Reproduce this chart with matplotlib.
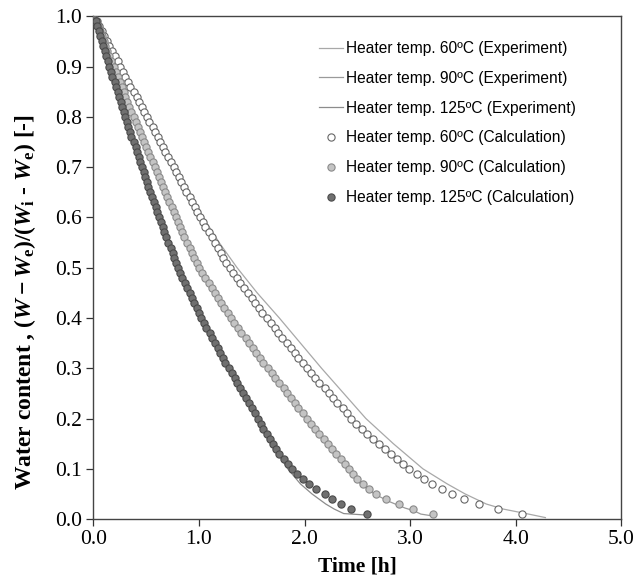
import matplotlib
matplotlib.use("Agg")
from matplotlib import pyplot as plt

# moisture levels of the calculated points, shared by the three calculation series
calc_levels = [
    1.00, 0.99, 0.98, 0.97, 0.96, 0.95, 0.94, 0.93, 0.92, 0.91,
    0.90, 0.89, 0.88, 0.87, 0.86, 0.85, 0.84, 0.83, 0.82, 0.81,
    0.80, 0.79, 0.78, 0.77, 0.76, 0.75, 0.74, 0.73, 0.72, 0.71,
    0.70, 0.69, 0.68, 0.67, 0.66, 0.65, 0.64, 0.63, 0.62, 0.61,
    0.60, 0.59, 0.58, 0.57, 0.56, 0.55, 0.54, 0.53, 0.52, 0.51,
    0.50, 0.49, 0.48, 0.47, 0.46, 0.45, 0.44, 0.43, 0.42, 0.41,
    0.40, 0.39, 0.38, 0.37, 0.36, 0.35, 0.34, 0.33, 0.32, 0.31,
    0.30, 0.29, 0.28, 0.27, 0.26, 0.25, 0.24, 0.23, 0.22, 0.21,
    0.20, 0.19, 0.18, 0.17, 0.16, 0.15, 0.14, 0.13, 0.12, 0.11,
    0.10, 0.09, 0.08, 0.07, 0.06, 0.05, 0.04, 0.03, 0.02, 0.01,
]

calc_60_t = [
    0.00, 0.03, 0.05, 0.08, 0.10, 0.13, 0.15, 0.18, 0.20, 0.23,
    0.25, 0.28, 0.30, 0.33, 0.35, 0.38, 0.41, 0.43, 0.46, 0.48,
    0.51, 0.53, 0.56, 0.58, 0.61, 0.63, 0.66, 0.68, 0.71, 0.73,
    0.76, 0.78, 0.81, 0.83, 0.86, 0.88, 0.91, 0.93, 0.96, 0.98,
    1.01, 1.04, 1.06, 1.09, 1.12, 1.15, 1.18, 1.21, 1.23, 1.26,
    1.29, 1.32, 1.36, 1.39, 1.43, 1.46, 1.50, 1.53, 1.57, 1.60,
    1.64, 1.68, 1.72, 1.75, 1.79, 1.83, 1.87, 1.91, 1.94, 1.98,
    2.02, 2.06, 2.10, 2.14, 2.19, 2.23, 2.27, 2.31, 2.36, 2.40,
    2.44, 2.49, 2.54, 2.59, 2.65, 2.70, 2.76, 2.82, 2.87, 2.93,
    2.99, 3.06, 3.13, 3.21, 3.30, 3.40, 3.51, 3.65, 3.83, 4.06,
]

calc_90_t = [
    0.00, 0.02, 0.04, 0.06, 0.08, 0.10, 0.11, 0.13, 0.15, 0.17,
    0.19, 0.21, 0.23, 0.25, 0.27, 0.29, 0.30, 0.32, 0.34, 0.36,
    0.38, 0.40, 0.42, 0.44, 0.46, 0.48, 0.50, 0.52, 0.54, 0.56,
    0.58, 0.60, 0.62, 0.64, 0.66, 0.68, 0.70, 0.72, 0.74, 0.76,
    0.78, 0.80, 0.82, 0.84, 0.86, 0.89, 0.91, 0.93, 0.95, 0.98,
    1.00, 1.03, 1.06, 1.09, 1.12, 1.15, 1.18, 1.21, 1.24, 1.27,
    1.30, 1.33, 1.37, 1.40, 1.44, 1.47, 1.51, 1.54, 1.58, 1.61,
    1.65, 1.69, 1.72, 1.76, 1.80, 1.83, 1.87, 1.91, 1.94, 1.98,
    2.02, 2.06, 2.10, 2.14, 2.18, 2.22, 2.26, 2.30, 2.34, 2.38,
    2.42, 2.46, 2.50, 2.55, 2.61, 2.68, 2.77, 2.89, 3.03, 3.22,
]

calc_125_t = [
    0.00, 0.02, 0.03, 0.05, 0.06, 0.08, 0.09, 0.11, 0.12, 0.14,
    0.15, 0.17, 0.18, 0.20, 0.21, 0.23, 0.24, 0.26, 0.27, 0.29,
    0.30, 0.32, 0.33, 0.35, 0.36, 0.38, 0.40, 0.41, 0.43, 0.44,
    0.46, 0.48, 0.49, 0.51, 0.52, 0.54, 0.55, 0.57, 0.59, 0.60,
    0.62, 0.64, 0.66, 0.67, 0.69, 0.71, 0.73, 0.75, 0.76, 0.78,
    0.80, 0.82, 0.84, 0.87, 0.89, 0.91, 0.93, 0.95, 0.98, 1.00,
    1.02, 1.05, 1.07, 1.10, 1.12, 1.15, 1.18, 1.20, 1.23, 1.25,
    1.28, 1.31, 1.34, 1.36, 1.39, 1.42, 1.44, 1.47, 1.50, 1.53,
    1.56, 1.59, 1.61, 1.64, 1.67, 1.70, 1.73, 1.76, 1.80, 1.84,
    1.88, 1.93, 1.98, 2.04, 2.11, 2.19, 2.26, 2.34, 2.44, 2.59,
]

# experiment curves
exp_60_t = [0, 0.13, 0.26, 0.39, 0.52, 0.65, 0.78, 0.91, 1.04, 1.19, 1.36, 1.55, 1.76,
            1.96, 2.16, 2.37, 2.58, 2.84, 3.12, 3.35, 3.52, 3.72, 3.88, 4.12, 4.28]
exp_60_y = [1.0, 0.95, 0.9, 0.85, 0.8, 0.75, 0.7, 0.65, 0.6, 0.55, 0.5, 0.45, 0.4,
            0.35, 0.3, 0.25, 0.2, 0.15, 0.1, 0.07, 0.05, 0.03, 0.02, 0.01, 0.003]
exp_90_t = [0, 0.10, 0.19, 0.29, 0.38, 0.48, 0.58, 0.68, 0.78, 0.89, 1.00, 1.15, 1.30,
            1.47, 1.65, 1.83, 2.02, 2.21, 2.40, 2.53, 2.66, 2.80, 2.95, 3.03, 3.10, 3.22]
exp_90_y = [1.0, 0.95, 0.9, 0.85, 0.8, 0.75, 0.7, 0.65, 0.6, 0.55, 0.5, 0.45, 0.4,
            0.35, 0.3, 0.25, 0.2, 0.15, 0.1, 0.07, 0.05, 0.035, 0.022, 0.017, 0.01, 0.006]
exp_125_t = [0, 0.08, 0.15, 0.23, 0.30, 0.38, 0.46, 0.54, 0.62, 0.71, 0.80, 0.91, 1.02,
             1.15, 1.27, 1.41, 1.55, 1.69, 1.84, 1.96, 2.07, 2.20, 2.28, 2.37, 2.59]
exp_125_y = [1.0, 0.95, 0.9, 0.85, 0.8, 0.75, 0.7, 0.65, 0.6, 0.55, 0.5, 0.45, 0.4,
             0.35, 0.3, 0.25, 0.2, 0.15, 0.1, 0.07, 0.05, 0.03, 0.02, 0.011, 0.008]

x_ticks = [0.0, 1.0, 2.0, 3.0, 4.0, 5.0]
y_ticks = [0.0, 0.1, 0.2, 0.3, 0.4, 0.5, 0.6, 0.7, 0.8, 0.9, 1.0]

plt.rcParams["mathtext.fontset"] = "custom"
plt.rcParams["mathtext.rm"] = "Liberation Serif:bold"
plt.rcParams["mathtext.it"] = "Liberation Serif:bold:italic"
plt.rcParams["mathtext.bf"] = "Liberation Serif:bold"

fig = plt.figure(figsize=(6.4, 5.8), dpi=100)
ax = fig.add_axes([0.146, 0.105, 0.825, 0.867])

line_kw = dict(lw=0.9, zorder=2)
ax.plot(exp_60_t, exp_60_y, color="#a8a8a8", label="Heater temp. 60ºC (Experiment)", **line_kw)
ax.plot(exp_90_t, exp_90_y, color="#9a9a9a", label="Heater temp. 90ºC (Experiment)", **line_kw)
ax.plot(exp_125_t, exp_125_y, color="#8c8c8c", label="Heater temp. 125ºC (Experiment)", **line_kw)

mk = dict(ls="none", marker="o", ms=5.2, mew=0.8, zorder=3)
ax.plot(calc_60_t, calc_levels, mfc="white", mec="#666666",
        label="Heater temp. 60ºC (Calculation)", **mk)
ax.plot(calc_90_t, calc_levels, mfc="#c4c4c4", mec="#8a8a8a",
        label="Heater temp. 90ºC (Calculation)", **mk)
ax.plot(calc_125_t, calc_levels, mfc="#707070", mec="#4a4a4a",
        label="Heater temp. 125ºC (Calculation)", **mk)

ax.set_xlim(0, 5)
ax.set_ylim(0, 1)
ax.set_xticks(x_ticks)
ax.set_yticks(y_ticks)
ax.set_xticklabels([f"{v:.1f}" for v in x_ticks])
ax.set_yticklabels([f"{v:.1f}" for v in y_ticks])
for lab in ax.get_xticklabels() + ax.get_yticklabels():
    lab.set_fontfamily("Liberation Serif")
    lab.set_fontsize(15.5)
ax.tick_params(direction="out", length=5, width=0.9, colors="#333333", labelcolor="black", pad=3)
for s in ax.spines.values():
    s.set_color("#444444")
    s.set_linewidth(1.0)

ax.set_xlabel("Time [h]", fontfamily="Liberation Serif", fontweight="bold", fontsize=15.5)
ax.xaxis.set_label_coords(0.5, -0.074)
ax.set_ylabel(r"Water content , $(W - W_{\rm e})/(W_{\rm i}$ - $W_{\rm e})$ [-]",
              fontfamily="Liberation Serif", fontweight="bold", fontsize=17)
ax.yaxis.set_label_coords(-0.105, 0.432)

leg = ax.legend(loc="upper right", bbox_to_anchor=(0.925, 0.963), frameon=False,
                prop={"family": "Liberation Sans", "size": 11.2},
                handlelength=1.55, handletextpad=0.2, labelspacing=0.95, borderaxespad=0)

fig.savefig("out.png", dpi=100)
